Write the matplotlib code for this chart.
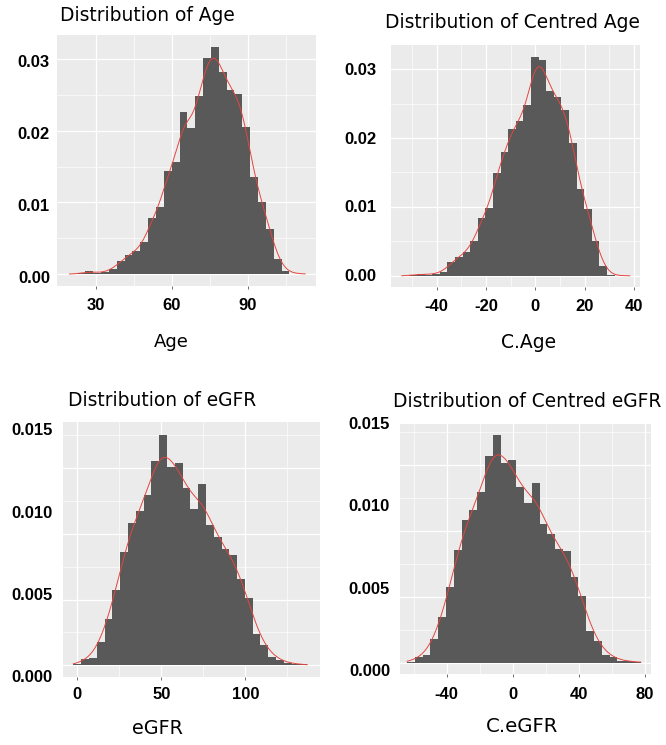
import math
import numpy as np
import matplotlib
matplotlib.use("Agg")
import matplotlib.pyplot as plt
import matplotlib.transforms as mtransforms

W, H, DPI = 666, 745, 100

# ---- histogram data (density per bin, 30 bins each) ----
age_start, age_width = 19.7, 3.1
age_density = [0.00005, 0.00014, 0.0004, 0.0002, 0.0003, 0.0007, 0.0018, 0.0027,
               0.0032, 0.0045, 0.0078, 0.0093, 0.0144, 0.0156, 0.0226, 0.0204,
               0.0248, 0.0301, 0.0316, 0.0281, 0.0257, 0.0251, 0.0205, 0.0135,
               0.0100, 0.0063, 0.0021, 0.0005, 0.0001, 0.0001]

cage_start, cage_width = -54.1, 3.08
cage_density = [0.00005, 0.00015, 0.00025, 0.0002, 0.00035, 0.0006, 0.002, 0.0027,
                0.0035, 0.005, 0.0084, 0.0099, 0.0149, 0.0179, 0.0213, 0.0224,
                0.0248, 0.0318, 0.0313, 0.0268, 0.0259, 0.024, 0.0193, 0.0126,
                0.0097, 0.005, 0.00145, 0.00015, 0.00005, 0.00005]

egfr_start, egfr_width = -2.3, 4.64
egfr_density = [0.00005, 0.00037, 0.00043, 0.00144, 0.0028, 0.00458, 0.00692, 0.00864,
                0.00941, 0.01036, 0.01243, 0.01404, 0.01205, 0.01233, 0.01081, 0.00949,
                0.01101, 0.00854, 0.00783, 0.00706, 0.00671, 0.00523, 0.00408, 0.00189,
                0.00122, 0.00053, 0.00032, 0.00012, 0.00008, 0.00006]

cegfr_start, cegfr_width = -64.0, 4.72
cegfr_density = [0.00005, 0.00034, 0.00044, 0.00142, 0.00277, 0.00459, 0.00681, 0.00863,
                 0.00924, 0.01035, 0.01252, 0.01383, 0.01209, 0.01227, 0.01066, 0.00969,
                 0.01092, 0.00843, 0.00783, 0.00692, 0.00675, 0.0052, 0.00404, 0.0019,
                 0.00129, 0.00045, 0.00034, 0.0001, 0.00008, 0.00006]

titles = ["Distribution of Age", "Distribution of Centred Age",
          "Distribution of eGFR", "Distribution of Centred eGFR"]
xlabels = ["Age", "C.Age", "eGFR", "C.eGFR"]

x_major = [[30, 60, 90], [-40, -20, 0, 20, 40], [0, 50, 100], [-40, 0, 40, 80]]
x_minor = [[45, 75, 105], [-50, -30, -10, 10, 30], [25, 75, 125], [-60, -20, 20, 60]]
y_ticklabels = [["0.00", "0.01", "0.02", "0.03"], ["0.00", "0.01", "0.02", "0.03"],
                ["0.000", "0.005", "0.010", "0.015"], ["0.000", "0.005", "0.010", "0.015"]]
y_tickvalues = [[0, 0.01, 0.02, 0.03], [0, 0.01, 0.02, 0.03],
                [0, 0.005, 0.010, 0.015], [0, 0.005, 0.010, 0.015]]
y_grid_major = [[0, 0.01, 0.02, 0.03], [0, 0.01, 0.02, 0.03],
                [0, 0.004, 0.008, 0.012], [0, 0.004, 0.008, 0.012]]
y_grid_minor = [[0.005, 0.015, 0.025], [0.005, 0.015, 0.025],
                [0.002, 0.006, 0.010, 0.014], [0.002, 0.006, 0.010, 0.014]]

# ---- layout (pixels) ----
panel_px = [(57.3, 35, 316, 286), (391.3, 45, 640.3, 287.3),
            (63.3, 422, 320, 677), (399.7, 423.7, 651.3, 673.7)]
xlims = [(14.85, 116.98), (-58.37, 42.56), (-8.33, 144.5), (-68.5, 84.0)]
ylims = [(-0.00163, 0.03331), (-0.00164, 0.03348), (-0.000712, 0.01481), (-0.000667, 0.0145)]
title_pos = [(60, 21), (385, 28.3), (68, 406), (393, 407)]
xlab_pos = [(171.7, 346.7, 13), (529, 348, 13.5), (157.5, 733.7, 13.8), (522, 732, 14.2)]
ylab_right = [50, 376, 53, 390]
ylab_shift = [4, 1, 12, 9]
xtick_pad = [6.3, 6.1, 4.8, 7.2]
smooth_factor = [0.8, 0.8, 1.15, 1.15]   # kernel width relative to bin width

BG = "#EBEBEB"
BAR = "#595959"
LINE = "#E4463E"
TICKFONT = "Liberation Sans"
TICKSIZE = 12

_erf = np.vectorize(math.erf)


def smooth_density(start, width, heights, x, bw):
    """Gaussian-smoothed version of a binned density."""
    h = np.asarray(heights)
    a = start + width * np.arange(len(h))
    b = a + width
    cdf = lambda z: 0.5 * (1 + _erf(z / math.sqrt(2)))
    xx = x[:, None]
    return (h[None, :] * (cdf((xx - a[None, :]) / bw) - cdf((xx - b[None, :]) / bw))).sum(axis=1)


fig = plt.figure(figsize=(W / DPI, H / DPI), dpi=DPI)
fig.patch.set_facecolor("white")

datasets = [(age_start, age_width, age_density),
            (cage_start, cage_width, cage_density),
            (egfr_start, egfr_width, egfr_density),
            (cegfr_start, cegfr_width, cegfr_density)]

for i, (start, width, dens) in enumerate(datasets):
    x0, y0, x1, y1 = panel_px[i]
    ax = fig.add_axes([x0 / W, 1 - y1 / H, (x1 - x0) / W, (y1 - y0) / H])
    ax.set_facecolor(BG)
    for s in ax.spines.values():
        s.set_visible(False)
    ax.set_xlim(*xlims[i])
    ax.set_ylim(*ylims[i])

    # grid
    for v in x_major[i]:
        ax.axvline(v, color="white", lw=0.9, zorder=0.5)
    for v in x_minor[i]:
        ax.axvline(v, color="white", lw=0.45, zorder=0.5)
    for v in y_grid_major[i]:
        ax.axhline(v, color="white", lw=0.9, zorder=0.5)
    for v in y_grid_minor[i]:
        ax.axhline(v, color="white", lw=0.45, zorder=0.5)

    # histogram bars
    edges = start + width * np.arange(len(dens))
    ax.bar(edges, dens, width=width, align="edge", color=BAR, linewidth=0, zorder=2)

    # density curve
    xs = np.linspace(start, start + width * len(dens), 400)
    ax.plot(xs, smooth_density(start, width, dens, xs, smooth_factor[i] * width),
            color=LINE, lw=0.7, zorder=3)

    # x ticks
    ax.set_xticks(x_major[i])
    ax.set_xticklabels([str(v) for v in x_major[i]], fontfamily=TICKFONT,
                       fontweight="bold", fontsize=TICKSIZE)
    ax.tick_params(axis="x", length=2.5, width=0.6, color="#555555",
                   pad=xtick_pad[i], labelcolor="black")
    ax.set_yticks([])

    # y tick labels
    trans = (mtransforms.blended_transform_factory(fig.transFigure, ax.transData)
             + mtransforms.ScaledTranslation(0, -ylab_shift[i] / DPI, fig.dpi_scale_trans))
    for v, s in zip(y_tickvalues[i], y_ticklabels[i]):
        ax.text(ylab_right[i] / W, v, s, transform=trans, ha="right", va="center",
                fontfamily=TICKFONT, fontweight="bold", fontsize=TICKSIZE,
                color="black", clip_on=False)

    # titles
    tx, ty = title_pos[i]
    fig.text(tx / W, 1 - ty / H, titles[i], fontsize=13.4, ha="left",
             va="baseline", color="black")
    lx, ly, lfs = xlab_pos[i]
    fig.text(lx / W, 1 - ly / H, xlabels[i], fontsize=lfs, ha="center",
             va="baseline", color="black")

fig.savefig("out.png", dpi=DPI)
